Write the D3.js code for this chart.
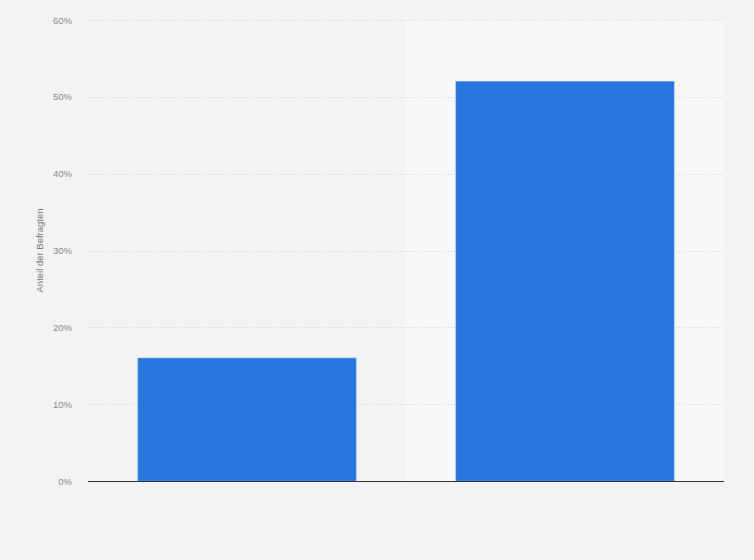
<!DOCTYPE html>
<html><head><meta charset="utf-8">
<script src="https://cdn.jsdelivr.net/npm/d3@7"></script>
<style>html,body{margin:0;padding:0;background:#f3f3f3;}svg{display:block;}</style>
</head><body>
<svg id="chart" width="754" height="560"></svg>
<script>
const categories = ["Kategorie 1", "Kategorie 2"];
const values = [16, 52];
const yTicks = [0, 10, 20, 30, 40, 50, 60];
const yTitle = "Anteil der Befragten";

const svg = d3.select("#chart");
const W = 754, H = 560;
const m = {left: 88, right: 30, top: 20, bottom: 79};
svg.append("rect").attr("width", W).attr("height", H).attr("fill", "#f3f3f3");

const x = d3.scaleBand().domain(categories).range([m.left, W - m.right])
  .paddingInner(0.314).paddingOuter(0.157);
const y = d3.scaleLinear().domain([0, 60]).range([H - m.bottom, m.top]);

// alternating bands
svg.selectAll("rect.band").data(categories).enter().append("rect")
  .attr("class", "band")
  .attr("x", (d, i) => m.left + i * x.step())
  .attr("width", x.step())
  .attr("y", y(60)).attr("height", y(0) - y(60))
  .attr("fill", (d, i) => i % 2 ? "#f8f8f8" : "#f3f3f3");

// gridlines
svg.append("g").selectAll("line").data(yTicks.filter(t => t > 0)).enter().append("line")
  .attr("x1", m.left).attr("x2", W - m.right)
  .attr("y1", d => Math.round(y(d)) + 0.5).attr("y2", d => Math.round(y(d)) + 0.5)
  .attr("stroke", "#cfcfcf").attr("stroke-width", 1).attr("stroke-dasharray", "1,2");

// y axis labels
const yAxis = d3.axisLeft(y).tickValues(yTicks).tickFormat(d => d + "%").tickSize(0).tickPadding(16);
const ga = svg.append("g").attr("transform", `translate(${m.left},0)`).call(yAxis);
ga.select(".domain").remove();
ga.selectAll("text").attr("fill", "#8a8a8a").style("font-family", "Arial, 'Liberation Sans', sans-serif").style("font-size", "9.5px");

// bars
svg.selectAll("rect.bar").data(values).enter().append("rect")
  .attr("class", "bar")
  .attr("x", (d, i) => x(categories[i]))
  .attr("width", x.bandwidth())
  .attr("y", d => y(d))
  .attr("height", d => y(0) - y(d))
  .attr("fill", "#2776dc")
  .attr("stroke", "#5d9ae6").attr("stroke-width", 0.6);

// baseline
svg.append("line").attr("x1", m.left).attr("x2", W - m.right)
  .attr("y1", y(0) + 0.5).attr("y2", y(0) + 0.5)
  .attr("stroke", "#333").attr("stroke-width", 1.2);

// y title
svg.append("text").attr("transform", `translate(43,${(y(0)+y(60))/2}) rotate(-90)`)
  .attr("text-anchor", "middle")
  .attr("fill", "#777")
  .style("font-family", "Arial, 'Liberation Sans', sans-serif").style("font-size", "9.5px")
  .text(yTitle);
</script>
</body></html>
